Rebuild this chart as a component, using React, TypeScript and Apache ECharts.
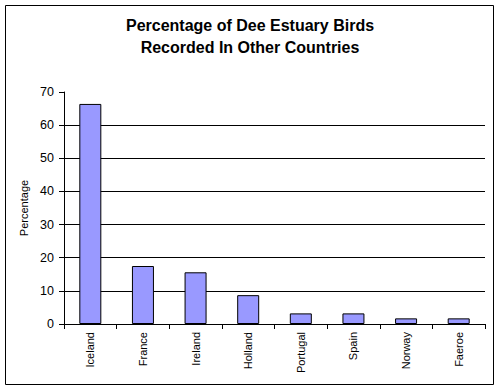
import React, { useEffect, useRef } from "react";
import * as echarts from "echarts";

const categories = ["Iceland", "France", "Ireland", "Holland", "Portugal", "Spain", "Norway", "Faeroe"];
const percentages = [66.4, 17.5, 15.6, 8.7, 3.2, 3.2, 1.7, 1.7];
const titleText = "Percentage of Dee Estuary Birds\nRecorded In Other Countries";
const yAxisName = "Percentage";

export default function App() {
  const ref = useRef<HTMLDivElement>(null);
  useEffect(() => {
    document.body.style.margin = "0";
    const chart = echarts.init(ref.current!, null, { renderer: "svg" });
    chart.setOption({
      animation: false,
      backgroundColor: "#ffffff",
      title: {
        text: titleText,
        left: "center",
        top: 9,
        textStyle: { fontFamily: "Arial, Liberation Sans", fontSize: 16, fontWeight: "bold", color: "#000", lineHeight: 22 },
      },
      graphic: [
        {
          type: "rect",
          shape: { x: 5.5, y: 5.5, width: 488, height: 379 },
          style: { fill: "none", stroke: "#000", lineWidth: 1 },
          silent: true,
          z: 100,
        },
      ],
      grid: { left: 64, right: 15, top: 92, bottom: 65 },
      xAxis: {
        type: "category",
        data: categories,
        axisLine: { show: true, lineStyle: { color: "#000", width: 1 } },
        axisTick: { show: true, alignWithLabel: false, length: 5, lineStyle: { color: "#000" } },
        axisLabel: { rotate: 90, margin: 8, fontFamily: "Arial, Liberation Sans", fontSize: 11, color: "#000", interval: 0 },
        splitLine: { show: false },
      },
      yAxis: {
        type: "value",
        min: 0,
        max: 70,
        interval: 10,
        name: yAxisName,
        nameLocation: "middle",
        nameRotate: 90,
        nameGap: 28,
        nameTextStyle: { fontFamily: "Arial, Liberation Sans", fontSize: 11, color: "#000" },
        axisLine: { show: true, lineStyle: { color: "#000", width: 1 } },
        axisTick: { show: true, length: 5, lineStyle: { color: "#000" } },
        axisLabel: { margin: 10, fontFamily: "Arial, Liberation Sans", fontSize: 12.5, color: "#000" },
        splitLine: { show: true, showMaxLine: false, showMinLine: false, lineStyle: { color: "#000", width: 1 } },
      },
      series: [
        {
          type: "bar",
          data: percentages,
          barWidth: 22,
          itemStyle: { color: "#9999ff", borderColor: "#000", borderWidth: 1 },
        },
      ],
    });
    return () => chart.dispose();
  }, []);
  return <div ref={ref} style={{ width: 500, height: 389 }} />;
}
